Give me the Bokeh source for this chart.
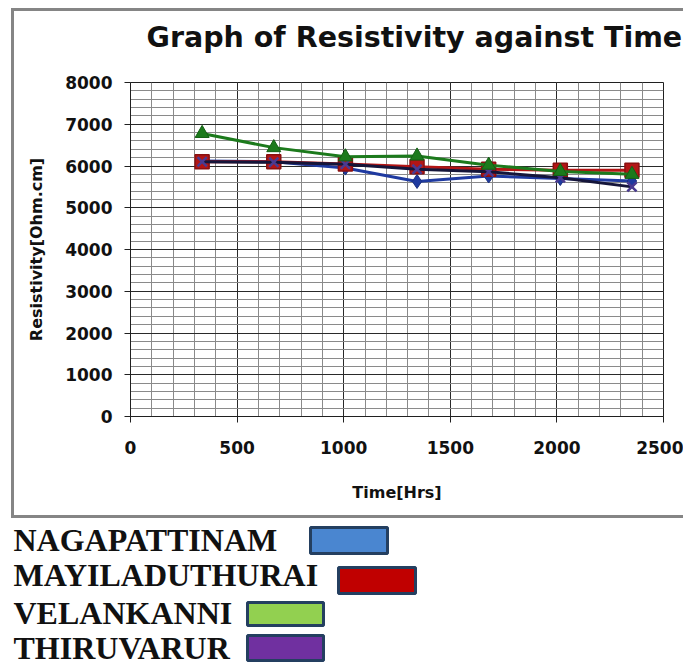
from bokeh.plotting import figure
from bokeh.models import Range1d, SingleIntervalTicker, ColumnDataSource
from bokeh.core.properties import value
from bokeh.embed import file_html
from bokeh.resources import INLINE

# ---------------- data ----------------
time_hrs = [336, 672, 1008, 1344, 1680, 2016, 2352]
nagapattinam = [6120, 6100, 5950, 5630, 5760, 5700, 5640]
mayiladuthurai = [6100, 6100, 6050, 5980, 5920, 5900, 5900]
velankanni = [6780, 6440, 6220, 6240, 6020, 5870, 5800]
thiruvarur = [6100, 6090, 6040, 5920, 5860, 5720, 5500]

legend_names = ["NAGAPATTINAM", "MAYILADUTHURAI", "VELANKANNI", "THIRUVARUR"]
legend_fills = ["#4a86d0", "#c00000", "#92d050", "#7030a0"]

title_text = "Graph of Resistivity against Time"
x_title = "Time[Hrs]"
y_title = "Resistivity[Ohm.cm]"

BORDER = "3px solid #858585"

# ---------------- title strip (top of the bordered chart area) ----------------
TW, TH = 672, 60
tf = figure(width=TW, height=TH, output_backend="svg", toolbar_location=None,
            x_range=Range1d(0, TW), y_range=Range1d(TH, 0),
            x_axis_type=None, y_axis_type=None,
            min_border=0, min_border_left=0, min_border_right=0,
            min_border_top=0, min_border_bottom=0, outline_line_color=None,
            background_fill_color="white", border_fill_color="white")
tf.styles = {"border-left": BORDER, "border-top": BORDER,
             "margin-left": "11px", "margin-top": "8px"}
tf.xgrid.visible = False
tf.ygrid.visible = False
title_src = ColumnDataSource(dict(x=[132], y=[26], t=[title_text]))
tf.text("x", "y", text="t", source=title_src,
        text_font=value("DejaVu Sans"), text_font_style="bold",
        text_font_size="28.5px", text_color="#111111",
        text_baseline="alphabetic")

# ---------------- chart ----------------
p = figure(width=672, height=450, output_backend="svg", toolbar_location=None,
           x_range=Range1d(0, 2500), y_range=Range1d(0, 8000),
           min_border_left=116, min_border_right=23,
           min_border_top=14, min_border_bottom=102,
           background_fill_color="white", border_fill_color="white")
p.styles = {"border-left": BORDER, "border-bottom": BORDER,
            "margin-left": "11px"}

p.outline_line_color = "#202020"
p.outline_line_width = 1

# axes
p.xaxis.ticker = SingleIntervalTicker(interval=500, num_minor_ticks=5)
p.yaxis.ticker = SingleIntervalTicker(interval=1000, num_minor_ticks=5)
for ax in (p.xaxis, p.yaxis):
    ax.axis_line_color = "#202020"
    ax.major_tick_line_color = "#202020"
    ax.major_tick_out = 6
    ax.major_tick_in = 0
    ax.minor_tick_line_color = None
    ax.major_label_text_font = "DejaVu Sans"
    ax.major_label_text_font_style = "bold"
    ax.major_label_text_font_size = "17px"
    ax.major_label_text_color = "#111111"
    ax.axis_label_text_font = "DejaVu Sans"
    ax.axis_label_text_font_style = "bold"
    ax.axis_label_text_color = "#111111"
p.xaxis.axis_label = x_title
p.yaxis.axis_label = y_title
p.xaxis.axis_label_text_font_size = "16px"
p.yaxis.axis_label_text_font_size = "16px"
p.xaxis.major_label_standoff = 18
p.xaxis.axis_label_standoff = 26
p.yaxis.major_label_standoff = 12
p.yaxis.axis_label_standoff = 16

# grids
for g in (p.xgrid, p.ygrid):
    g.grid_line_color = "#2a2a2a"
    g.grid_line_width = 1
    g.grid_line_alpha = 1
    g.minor_grid_line_color = "#8a8a8a"
    g.minor_grid_line_width = 1

# series
src = ColumnDataSource(dict(t=time_hrs, nag=nagapattinam, may=mayiladuthurai,
                            vel=velankanni, thi=thiruvarur))

p.line("t", "nag", source=src, line_color="#1f3aa0", line_width=3)
p.scatter("t", "nag", source=src, marker="diamond", size=14,
          fill_color="#1f3aa0", line_color="#1a2f80")

p.line("t", "may", source=src, line_color="#b31515", line_width=3)
p.scatter("t", "may", source=src, marker="square", size=14,
          fill_color="#b31515", line_color="#8a1010", line_width=1.5)

p.line("t", "thi", source=src, line_color="#15153a", line_width=3)
p.scatter("t", "thi", source=src, marker="x", size=13,
          line_color="#4a3a90", line_width=2.5)

p.line("t", "vel", source=src, line_color="#1c7a1c", line_width=3)
p.scatter("t", "vel", source=src, marker="triangle", size=14,
          fill_color="#1c7a1c", line_color="#146014")

# ---------------- legend panel below the chart ----------------
LW, LH = 686, 146
lg = figure(width=LW, height=LH, output_backend="svg", toolbar_location=None,
            x_range=Range1d(0, LW), y_range=Range1d(LH, 0),
            x_axis_type=None, y_axis_type=None,
            min_border=0, min_border_left=0, min_border_right=0,
            min_border_top=0, min_border_bottom=0, outline_line_color=None,
            background_fill_color="white", border_fill_color="white")
lg.xgrid.visible = False
lg.ygrid.visible = False

leg_src = ColumnDataSource(dict(
    name=legend_names, fill=legend_fills,
    tx=[13, 13, 13, 13], ty=[21, 56, 94, 129],
    left=[310, 338, 247, 247], right=[387, 415, 323, 323],
    top=[9, 49, 84, 117], bottom=[35, 75, 107, 142]))

lg.text("tx", "ty", text="name", source=leg_src,
        text_font=value("Liberation Serif"), text_font_style="bold",
        text_font_size="32px", text_color="#111111",
        text_baseline="alphabetic")
lg.quad(left="left", right="right", top="top", bottom="bottom",
        source=leg_src, fill_color="fill", line_color="#243f60",
        line_width=3)

open("out.html", "w").write(file_html([tf, p, lg], INLINE))
